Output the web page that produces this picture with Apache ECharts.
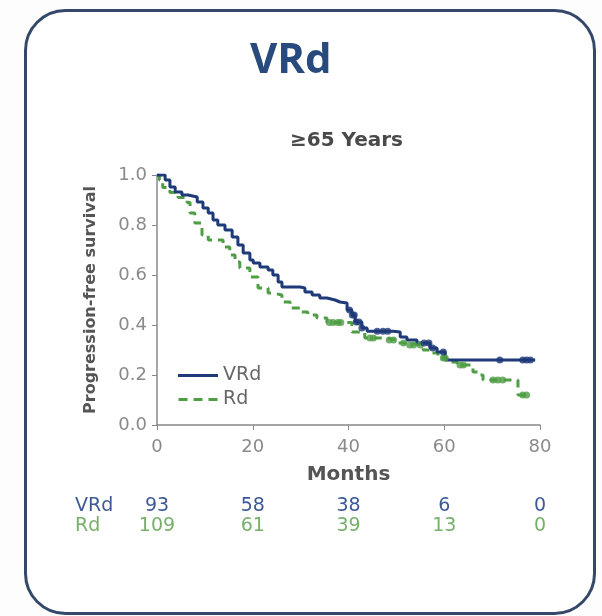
<!DOCTYPE html>
<html>
<head>
<meta charset="utf-8">
<script src="https://cdn.jsdelivr.net/npm/echarts@6/dist/echarts.min.js"></script>
<style>
html,body{margin:0;padding:0;background:#fdfdfd;}
#c{width:602px;height:616px;}
</style>
</head>
<body>
<div id="c"></div>
<script>
// Kaplan-Meier data (months, progression-free survival)
const vrdMonths = [0,1.7,2.7,3.8,5.2,6.5,8.4,9.6,10.7,11.7,12.7,14.2,15.7,16.9,18.0,19.4,20.1,21.5,23.2,24.2,25.3,26.1,29.9,30.9,32.4,34.0,35.5,37.2,38.2,39.7,40.7,41.4,42.8,43.9,49.3,50.8,52.2,54.3,57.0,58.5,60.2,79];
const vrdPFS    = [1.0,0.98,0.952,0.932,0.92,0.912,0.892,0.868,0.848,0.82,0.80,0.78,0.752,0.72,0.688,0.66,0.648,0.632,0.62,0.60,0.572,0.552,0.548,0.532,0.52,0.508,0.50,0.492,0.488,0.46,0.44,0.412,0.388,0.375,0.372,0.352,0.34,0.328,0.308,0.292,0.26,0.26];
const rdMonths  = [0,0.5,1.2,2.7,4.4,6.3,6.9,7.9,9.4,10.7,13.8,15.2,16.3,17.3,19.4,21.1,23.2,24.2,26.1,27.8,29.9,31.5,33.4,35.5,40.7,43.4,47.6,50.1,52.2,55.6,57.0,58.7,60.6,62.7,66.0,67.5,68.1,75.4,78];
const rdPFS     = [1.0,0.98,0.95,0.93,0.91,0.89,0.848,0.808,0.76,0.74,0.712,0.68,0.652,0.628,0.592,0.548,0.528,0.52,0.492,0.468,0.452,0.44,0.428,0.41,0.372,0.348,0.34,0.328,0.32,0.30,0.288,0.268,0.252,0.24,0.212,0.20,0.18,0.12,0.12];
const vrdCensorMonths = [40.2,40.8,41.2,41.6,42.2,42.8,46.0,47.2,48.2,55.8,56.8,57.6,59.8,71.6,76.4,77.2,78.0];
const rdCensorMonths  = [36.0,36.8,37.8,38.4,44.5,45.2,48.5,49.4,51.5,52.8,53.6,55.0,59.8,60.2,63.3,64.0,70.2,71.2,72.2,76.4,77.2];
const xTicks = [0,20,40,60,80];
const vrdAtRisk = [93,58,38,6,0];
const rdAtRisk  = [109,61,39,13,0];

const navy = '#1e3a78';
const green = '#4f9e45';
const FONT = 'DejaVu Sans';

function survAt(m, s, t){ let v = s[0]; for(let i=0;i<m.length;i++){ if(m[i]<=t) v=s[i]; } return v; }
const zip = (a,b)=>a.map((x,i)=>[x,b[i]]);
const riskFmt = arr => v => { const i = xTicks.indexOf(v); return i>=0 ? String(arr[i]) : ''; };

const chart = echarts.init(document.getElementById('c'));
chart.setOption({
  animation:false,
  backgroundColor:'#fdfdfd',
  textStyle:{fontFamily:FONT},
  graphic:[
    {type:'rect', left:24, top:9, shape:{width:569, height:603, r:40}, style:{fill:'#ffffff', stroke:'#34496a', lineWidth:3}, z:-10},
    {type:'text', left:250, top:40, style:{text:'VRd', font:'bold 42px "Open Sans"', fill:'#284a7c'}},
    {type:'text', left:290, top:131, style:{text:'≥65 Years', font:'bold 20px "DejaVu Sans"', fill:'#4a4a4a'}}
  ],
  legend:{
    data:[
      {name:'VRd', icon:'path://M0,0H40V3H0Z'},
      {name:'Rd', icon:'path://M0,0H9V3H0Z M15,0H24V3H15Z M30,0H39V3H30Z'}
    ],
    orient:'vertical', left:173, top:361, itemWidth:40, itemHeight:3, itemGap:5,
    textStyle:{fontSize:19, color:'#666', fontFamily:FONT}
  },
  grid:{left:157, right:62, top:175, bottom:191, containLabel:false},
  xAxis:[
    {type:'value', min:0, max:80, interval:20,
     axisLine:{lineStyle:{color:'#888', width:1.5}}, axisTick:{show:true, length:5, lineStyle:{color:'#888'}},
     axisLabel:{color:'#8a8a8a', fontSize:18, margin:13}, splitLine:{show:false},
     name:'Months', nameLocation:'middle', nameGap:40, nameTextStyle:{fontSize:20, fontWeight:'bold', color:'#555'}},
    {type:'value', min:0, max:80, interval:20, position:'bottom', offset:72,
     axisLine:{show:false}, axisTick:{show:false}, splitLine:{show:false},
     axisLabel:{color:'#3d5a96', fontSize:19, margin:0, formatter:riskFmt(vrdAtRisk)},
     name:'VRd', nameLocation:'start', nameGap:82, nameTextStyle:{fontSize:19, color:'#3d5a96', align:'left', verticalAlign:'top'}},
    {type:'value', min:0, max:80, interval:20, position:'bottom', offset:92,
     axisLine:{show:false}, axisTick:{show:false}, splitLine:{show:false},
     axisLabel:{color:'#77b06a', fontSize:19, margin:0, formatter:riskFmt(rdAtRisk)},
     name:'Rd', nameLocation:'start', nameGap:82, nameTextStyle:{fontSize:19, color:'#77b06a', align:'left', verticalAlign:'top'}}
  ],
  yAxis:{type:'value', min:0, max:1, interval:0.2,
    axisLine:{show:true, lineStyle:{color:'#888', width:1.5}}, axisTick:{show:true, length:5, lineStyle:{color:'#888'}},
    axisLabel:{color:'#8a8a8a', fontSize:18, margin:10, formatter:v=>v.toFixed(1)}, splitLine:{show:false},
    name:'Progression-free survival', nameLocation:'middle', nameGap:58, nameRotate:90,
    nameTextStyle:{fontSize:16, fontWeight:'bold', color:'#555'}},
  series:[
    {name:'VRd', type:'line', step:'end', data:zip(vrdMonths,vrdPFS), showSymbol:false, symbol:'none',
     lineStyle:{color:navy, width:3}, itemStyle:{color:navy}, z:3},
    {name:'Rd', type:'line', step:'end', data:zip(rdMonths,rdPFS), showSymbol:false, symbol:'none',
     lineStyle:{color:green, width:3, type:[8,6]}, itemStyle:{color:green}, z:2},
    {name:'VRd censored', type:'scatter', symbol:'circle', symbolSize:7, itemStyle:{color:navy},
     data:vrdCensorMonths.map(t=>[t, survAt(vrdMonths,vrdPFS,t)]), z:4},
    {name:'Rd censored', type:'scatter', symbol:'circle', symbolSize:7, itemStyle:{color:green},
     data:rdCensorMonths.map(t=>[t, survAt(rdMonths,rdPFS,t)]), z:3}
  ]
});
</script>
</body>
</html>
